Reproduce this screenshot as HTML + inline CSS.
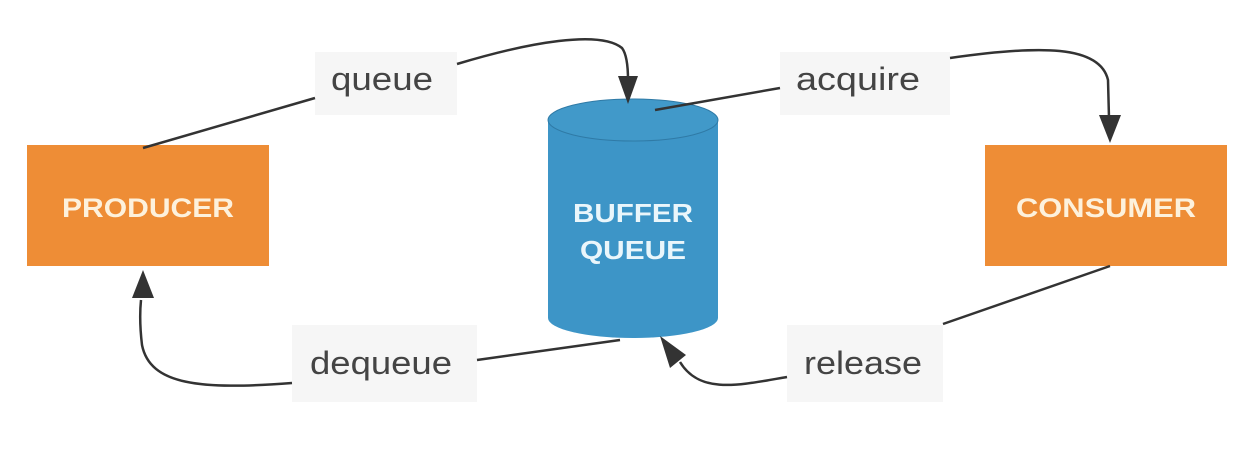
<!DOCTYPE html>
<html><head><style>
html,body{margin:0;padding:0;background:#fff;width:1250px;height:462px;overflow:hidden}
svg{display:block}
</style></head><body>
<svg width="1250" height="462" viewBox="0 0 1250 462" xmlns="http://www.w3.org/2000/svg" font-family="Liberation Sans, sans-serif">
<rect x="27" y="145" width="242" height="121" fill="#ee8d36"/>
<text x="148" y="217" font-size="27" font-weight="bold" fill="#fdf1dc" text-anchor="middle" textLength="172" lengthAdjust="spacingAndGlyphs">PRODUCER</text>
<rect x="985" y="145" width="242" height="121" fill="#ee8d36"/>
<text x="1106" y="217" font-size="27" font-weight="bold" fill="#fdf1dc" text-anchor="middle" textLength="180" lengthAdjust="spacingAndGlyphs">CONSUMER</text>
<path d="M548 120 L548 318 A85 20 0 0 0 718 318 L718 120 Z" fill="#3d95c7"/>
<ellipse cx="633" cy="120" rx="85" ry="21" fill="#4199c9" stroke="#2f7aa6" stroke-width="1"/>
<text x="633" y="222" font-size="26" font-weight="bold" fill="#eaf6fb" text-anchor="middle" textLength="120" lengthAdjust="spacingAndGlyphs">BUFFER</text>
<text x="633" y="259" font-size="26" font-weight="bold" fill="#eaf6fb" text-anchor="middle" textLength="106" lengthAdjust="spacingAndGlyphs">QUEUE</text>
<g fill="#f6f6f6">
<rect x="315" y="52" width="142" height="63"/>
<rect x="780" y="52" width="170" height="63"/>
<rect x="292" y="325" width="185" height="77"/>
<rect x="787" y="325" width="156" height="77"/>
</g>
<g font-size="32" fill="#444" text-anchor="middle">
<text x="382" y="90" textLength="102" lengthAdjust="spacingAndGlyphs">queue</text>
<text x="858" y="90" textLength="124" lengthAdjust="spacingAndGlyphs">acquire</text>
<text x="381" y="374" textLength="142" lengthAdjust="spacingAndGlyphs">dequeue</text>
<text x="863" y="374" textLength="118" lengthAdjust="spacingAndGlyphs">release</text>
</g>
<g stroke="#333" stroke-width="2.5" fill="none">
<path d="M143 148 L315 98"/>
<path d="M457 64 C530 42 600 30 622 48 Q628 56 628 80"/>
<path d="M655 110 L780 88"/>
<path d="M950 58 C1040 45 1100 45 1108 80 L1109 118"/>
<path d="M1110 266 L943 324"/>
<path d="M787 377 C740 385 700 395 680 362"/>
<path d="M477 360 L620 340"/>
<path d="M292 383 C200 390 150 385 142 345 Q139 320 141 300"/>
</g>
<g fill="#333">
<polygon points="628,104 618,76 638,76"/>
<polygon points="1110,143 1099,115 1121,115"/>
<polygon points="660,336 686,355 670,368"/>
<polygon points="143,270 132,298 154,298"/>
</g>
</svg>
</body></html>
